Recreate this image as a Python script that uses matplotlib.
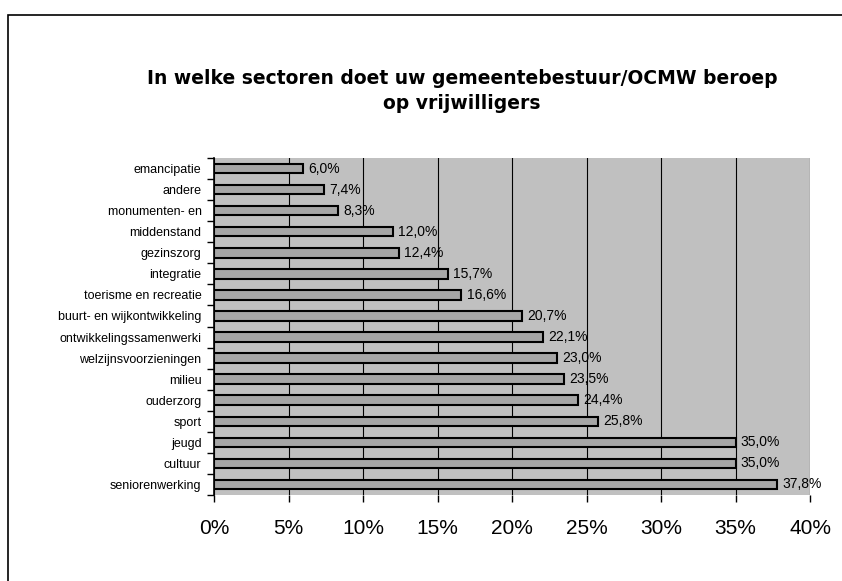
import matplotlib.pyplot as plt
from matplotlib.patches import Rectangle
from matplotlib.ticker import PercentFormatter

plt.rcParams['font.family'] = ['Liberation Sans', 'DejaVu Sans']

# Data, top to bottom as in the chart
sectors = ['emancipatie', 'andere', 'monumenten- en', 'middenstand', 'gezinszorg',
           'integratie', 'toerisme en recreatie', 'buurt- en wijkontwikkeling',
           'ontwikkelingssamenwerki', 'welzijnsvoorzieningen', 'milieu', 'ouderzorg',
           'sport', 'jeugd', 'cultuur', 'seniorenwerking']
values = [6.0, 7.4, 8.3, 12.0, 12.4, 15.7, 16.6, 20.7, 22.1, 23.0, 23.5, 24.4,
          25.8, 35.0, 35.0, 37.8]
x_ticks = [0, 5, 10, 15, 20, 25, 30, 35, 40]

fig = plt.figure(figsize=(8.42, 5.81), dpi=100)
# chart border (only left and top edges fall inside the picture)
fig.patches.append(Rectangle((8 / 842, -0.1), 1.2, (581 - 15) / 581 + 0.1,
                             transform=fig.transFigure, fill=False,
                             edgecolor='black', linewidth=1.2))

ax = fig.add_axes([214 / 842, 1 - 495 / 581, 596 / 842, 337 / 581])
ax.set_facecolor('#c0c0c0')

pos = list(range(len(sectors)))[::-1]
ax.barh(pos, values, height=0.45, color='#a6a6a6', edgecolor='black', linewidth=1.5, zorder=3)
for p, v in zip(pos, values):
    ax.text(v + 0.35, p, f'{v:.1f}%'.replace('.', ','), va='center', ha='left',
            fontsize=10, zorder=4)

ax.set_xlim(0, 40)
ax.set_ylim(-0.5, len(sectors) - 0.5)
ax.set_xticks(x_ticks)
ax.xaxis.set_major_formatter(PercentFormatter(decimals=0))
ax.set_yticks(pos)
ax.set_yticklabels(sectors, fontsize=9)
ax.set_yticks([p - 0.5 for p in pos] + [len(sectors) - 0.5], minor=True)
ax.tick_params(axis='y', which='major', length=0, pad=9)
ax.tick_params(axis='y', which='minor', length=5, direction='out', width=1)
ax.tick_params(axis='x', length=5, direction='out', labelsize=15, pad=12, width=1)
ax.grid(axis='x', color='black', linewidth=0.8, zorder=1)
ax.set_axisbelow(True)

for side in ['top', 'right']:
    ax.spines[side].set_visible(False)
ax.spines['left'].set_linewidth(1.2)
ax.spines['bottom'].set_visible(False)

fig.text(462 / 842, 1 - 91 / 581,
         'In welke sectoren doet uw gemeentebestuur/OCMW beroep\nop vrijwilligers',
         ha='center', va='center', fontsize=13.5, fontweight='bold', linespacing=1.4,
         family='DejaVu Sans')

fig.savefig('out.png', dpi=100)
